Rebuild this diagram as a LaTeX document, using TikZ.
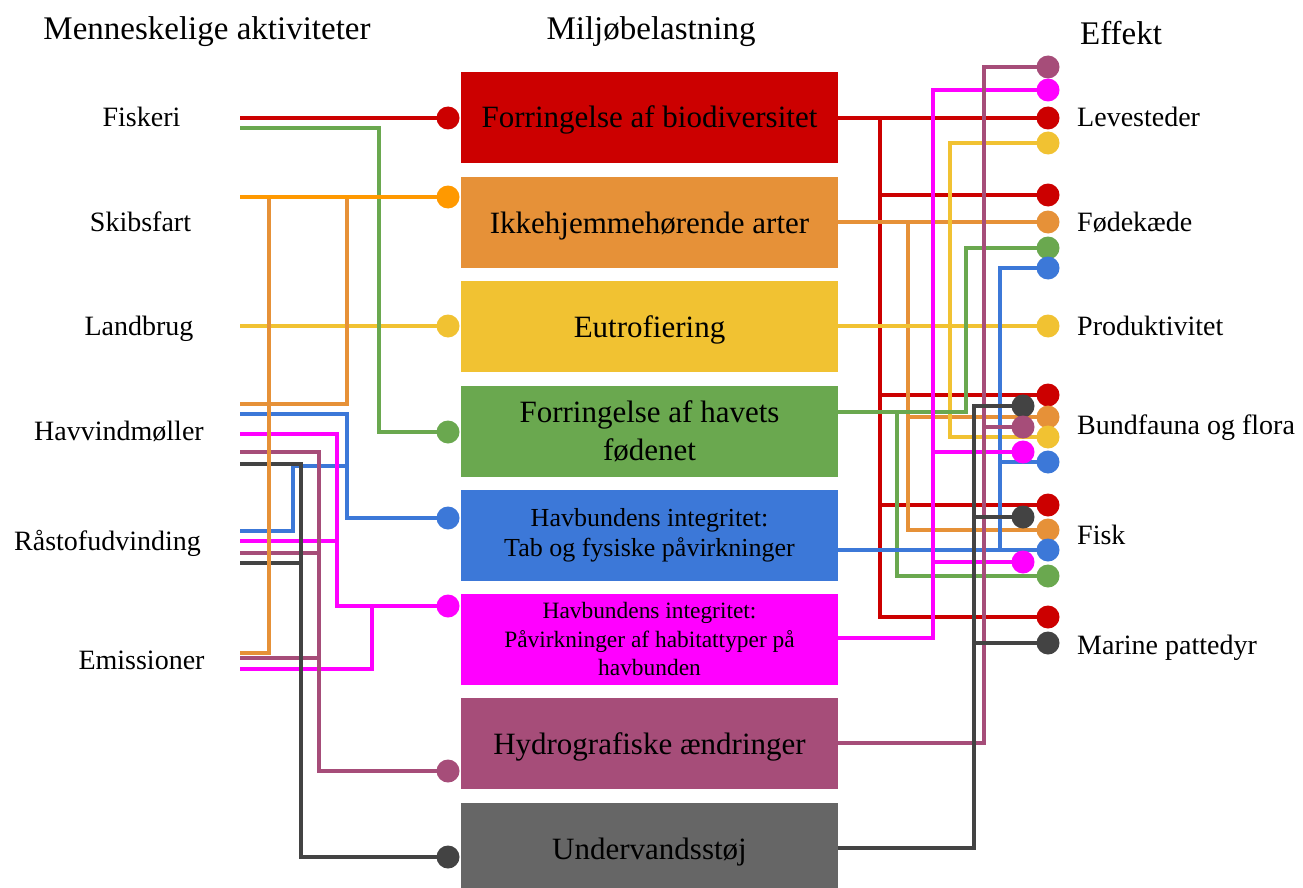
\documentclass[tikz,border=0pt]{standalone}
\usepackage{fontspec}
\setmainfont{Liberation Serif}
\definecolor{cRed}{HTML}{CC0000}
\definecolor{cBOrange}{HTML}{FF9900}
\definecolor{cOrange}{HTML}{E69138}
\definecolor{cYellow}{HTML}{F1C232}
\definecolor{cGreen}{HTML}{6AA84F}
\definecolor{cBlue}{HTML}{3C78D8}
\definecolor{cMag}{HTML}{FF00FF}
\definecolor{cPurple}{HTML}{A64D79}
\definecolor{cGreyBox}{HTML}{666666}
\definecolor{cDark}{HTML}{434343}
\begin{document}
\begin{tikzpicture}[x=1pt,y=-1pt,
  conn/.style={line width=4.8pt},
  dotn/.style={circle,fill=#1,minimum size=23pt,inner sep=0pt},
  box/.style={rectangle,fill=#1,minimum width=377pt,minimum height=91pt,inner sep=0pt,align=center,text=black,font=\fontsize{31}{38.5}\selectfont},
  one/.style={text height=21pt,text depth=0pt},
  head/.style={anchor=base,font=\fontsize{33}{38}\selectfont},
  lab/.style={anchor=base,font=\fontsize{28}{32}\selectfont},
  rlab/.style={anchor=base west,inner xsep=0pt,font=\fontsize{28}{32}\selectfont}]
\clip (0,0) rectangle (1303,888);
\useasboundingbox (0,0) rectangle (1303,888);

% headers
\node[head] (h1) at (207,40) {Menneskelige aktiviteter};
\node[head] (h2) at (651,40) {Miljøbelastning};
\node[head] (h3) at (1121,45) {Effekt};

% left labels
\node[lab] (aF) at (141.5,127) {Fiskeri};
\node[lab] (aS) at (140.5,231) {Skibsfart};
\node[lab] (aL) at (139,335) {Landbrug};
\node[lab] (aH) at (119,440) {Havvindmøller};
\node[lab] (aR) at (107.5,550) {Råstofudvinding};
\node[lab] (aE) at (141.5,669) {Emissioner};

% right labels
\node[rlab] (eL) at (1077,127) {Levesteder};
\node[rlab] (eF) at (1077,231) {Fødekæde};
\node[rlab] (eP) at (1077,335) {Produktivitet};
\node[rlab] (eB) at (1077,434) {Bundfauna og flora};
\node[rlab] (eK) at (1077,544) {Fisk};
\node[rlab] (eM) at (1077,654) {Marine pattedyr};

% boxes
\node[box=cRed,one] (b1) at (649.5,117.5) {Forringelse af biodiversitet};
\node[box=cOrange,one] (b2) at (649.5,222.5) {Ikkehjemmehørende arter};
\node[box=cYellow,one] (b3) at (649.5,326.5) {Eutrofiering};
\node[box=cGreen] (b4) at (649.5,431) {Forringelse af havets\\fødenet};
\node[box=cBlue,font=\fontsize{26}{30}\selectfont] (b5) at (649.5,535) {Havbundens integritet:\\Tab og fysiske påvirkninger};
\node[box=cMag,font=\fontsize{23.4}{28.5}\selectfont] (b6) at (649.5,639) {Havbundens integritet:\\Påvirkninger af habitattyper på\\havbunden};
\node[box=cPurple,one] (b7) at (649.5,743.5) {Hydrografiske ændringer};
\node[box=cGreyBox,one] (b8) at (649.5,848.5) {Undervandsstøj};

% left free ends
\coordinate (fR) at (240,118);
\coordinate (fG) at (240,128);
\coordinate (sO) at (240,197);
\coordinate (lY) at (240,326);
\coordinate (hO) at (240,404);
\coordinate (hB) at (240,414);
\coordinate (hM) at (240,434);
\coordinate (hP) at (240,452);
\coordinate (hK) at (240,464);
\coordinate (rB) at (240,531);
\coordinate (rM) at (240,541);
\coordinate (rP) at (240,553);
\coordinate (rK) at (240,563);
\coordinate (eO) at (240,653);
\coordinate (eP) at (240,658);
\coordinate (eMg) at (240,669);

% left dot positions
\coordinate (L1) at (448,118);
\coordinate (L2) at (448,197);
\coordinate (L3) at (448,326);
\coordinate (L4) at (448,432);
\coordinate (L5) at (448,518);
\coordinate (L6) at (448,606);
\coordinate (L7) at (448,771);
\coordinate (L8) at (448,857);

% left connectors
\draw[conn,cRed] (fR) -- (L1);
\draw[conn,cYellow] (lY) -- (L3);
\draw[conn,cBlue] (hB) -| (347,518) -- (L5);
\draw[conn,cBlue] (rB) -| (293,466) -- (347,466);
\draw[conn,cMag] (hM) -| (337,606) -- (L6);
\draw[conn,cMag] (rM) -- (337,541);
\draw[conn,cMag] (eMg) -| (372,606);
\draw[conn,cPurple] (hP) -| (319,771) -- (L7);
\draw[conn,cPurple] (rP) -- (319,553);
\draw[conn,cPurple] (eP) -- (319,658);
\draw[conn,cDark] (hK) -| (301,857) -- (L8);
\draw[conn,cDark] (rK) -- (301,563);
\draw[conn,cOrange] (hO) -| (347,197);
\draw[conn,cOrange] (eO) -| (269,197);
\draw[conn,cGreen] (fG) -| (379,432) -- (L4);
\draw[conn,cBOrange] (sO) -- (L2);

% left dots
\node[dotn=cRed] (d1) at (L1) {};
\node[dotn=cBOrange] (d2) at (L2) {};
\node[dotn=cYellow] (d3) at (L3) {};
\node[dotn=cGreen] (d4) at (L4) {};
\node[dotn=cBlue] (d5) at (L5) {};
\node[dotn=cMag] (d6) at (L6) {};
\node[dotn=cPurple] (d7) at (L7) {};
\node[dotn=cDark] (d8) at (L8) {};

% right dot positions
\coordinate (Rpu1) at (1048,67);
\coordinate (Rma1) at (1048,90);
\coordinate (Rre1) at (1048,118);
\coordinate (Rye1) at (1048,143);
\coordinate (Rre2) at (1048,195);
\coordinate (Ror1) at (1048,222);
\coordinate (Rgr1) at (1048,248);
\coordinate (Rbl1) at (1048,268);
\coordinate (Rye2) at (1048,326);
\coordinate (Rre3) at (1048,395);
\coordinate (Ror2) at (1048,417);
\coordinate (Rye3) at (1048,437);
\coordinate (Rbl2) at (1048,462);
\coordinate (Rre4) at (1048,505);
\coordinate (Ror3) at (1048,530);
\coordinate (Rbl3) at (1048,550);
\coordinate (Rgr2) at (1048,576);
\coordinate (Rre5) at (1048,617);
\coordinate (Rdk3) at (1048,643);
\coordinate (Rdk1) at (1023,406);
\coordinate (Rpu2) at (1023,427);
\coordinate (Rma2) at (1023,452);
\coordinate (Rdk2) at (1023,517);
\coordinate (Rma3) at (1023,562);

% right connectors
\draw[conn,cRed] (838,118) -- (Rre1);
\draw[conn,cRed] (880,118) |- (Rre5);
\draw[conn,cRed] (880,195) -- (Rre2);
\draw[conn,cRed] (880,395) -- (Rre3);
\draw[conn,cRed] (880,505) -- (Rre4);
\draw[conn,cOrange] (838,222) -- (Ror1);
\draw[conn,cOrange] (908,222) |- (Ror3);
\draw[conn,cOrange] (908,417) -- (Ror2);
\draw[conn,cYellow] (838,326) -- (Rye2);
\draw[conn,cYellow] (Rye1) -| (950,437) -- (Rye3);
\draw[conn,cGreen] (838,412) -| (966,248) -- (Rgr1);
\draw[conn,cGreen] (897,412) |- (Rgr2);
\draw[conn,cBlue] (838,550) -- (Rbl3);
\draw[conn,cBlue] (Rbl1) -| (1000,550);
\draw[conn,cBlue] (1000,462) -- (Rbl2);
\draw[conn,cMag] (838,638) -| (933,90) -- (Rma1);
\draw[conn,cMag] (933,452) -- (Rma2);
\draw[conn,cMag] (933,562) -- (Rma3);
\draw[conn,cPurple] (838,743) -| (984,67) -- (Rpu1);
\draw[conn,cPurple] (984,427) -- (Rpu2);
\draw[conn,cDark] (838,848) -| (974,406) -- (Rdk1);
\draw[conn,cDark] (974,517) -- (Rdk2);
\draw[conn,cDark] (974,643) -- (Rdk3);

% right dots (outer column)
\node[dotn=cPurple] (o1) at (Rpu1) {};
\node[dotn=cMag] (o2) at (Rma1) {};
\node[dotn=cRed] (o3) at (Rre1) {};
\node[dotn=cYellow] (o4) at (Rye1) {};
\node[dotn=cRed] (o5) at (Rre2) {};
\node[dotn=cOrange] (o6) at (Ror1) {};
\node[dotn=cGreen] (o7) at (Rgr1) {};
\node[dotn=cBlue] (o8) at (Rbl1) {};
\node[dotn=cYellow] (o9) at (Rye2) {};
\node[dotn=cRed] (o10) at (Rre3) {};
\node[dotn=cOrange] (o11) at (Ror2) {};
\node[dotn=cYellow] (o12) at (Rye3) {};
\node[dotn=cBlue] (o13) at (Rbl2) {};
\node[dotn=cRed] (o14) at (Rre4) {};
\node[dotn=cOrange] (o15) at (Ror3) {};
\node[dotn=cBlue] (o16) at (Rbl3) {};
\node[dotn=cGreen] (o17) at (Rgr2) {};
\node[dotn=cRed] (o18) at (Rre5) {};
\node[dotn=cDark] (o19) at (Rdk3) {};
% inner column
\node[dotn=cDark] (i1) at (Rdk1) {};
\node[dotn=cPurple] (i2) at (Rpu2) {};
\node[dotn=cMag] (i3) at (Rma2) {};
\node[dotn=cDark] (i4) at (Rdk2) {};
\node[dotn=cMag] (i5) at (Rma3) {};
\end{tikzpicture}
\end{document}
